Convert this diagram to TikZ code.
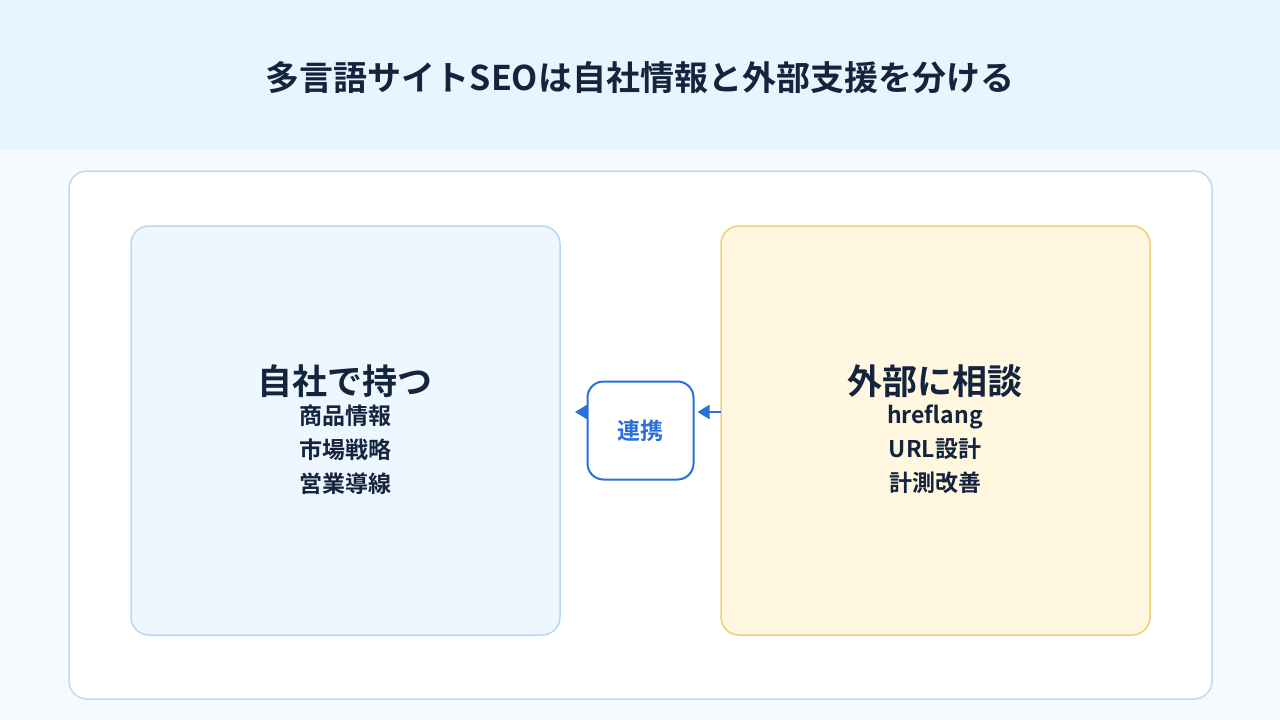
\documentclass[tikz,border=0pt]{standalone}
\usepackage{fontspec}
\setmainfont{Noto Sans CJK JP}[BoldFont={* Bold}]
\usetikzlibrary{arrows.meta}
\definecolor{navy}{HTML}{14243D}
\definecolor{linkblue}{HTML}{2A6FDB}
\begin{document}
\begin{tikzpicture}[x=1pt,y=-1pt,
panel/.style={rectangle,rounded corners=18pt,line width=1.5pt},
head/.style={font=\bfseries\fontsize{35}{40}\selectfont,text=navy},
item/.style={font=\bfseries\fontsize{23}{34}\selectfont,text=navy,align=center}]
	%background
	\fill[fill={rgb,255:red,245;green,250;blue,254}] (0,0) rectangle (1280,720);
	\fill[fill={rgb,255:red,232;green,244;blue,254}] (0,0) rectangle (1280,150);
	\useasboundingbox (0,0) rectangle (1280,720);
	\node[font=\bfseries\fontsize{34}{38}\selectfont,text=navy] (title) at (640,78) {多言語サイトSEOは自社情報と外部支援を分ける};
	%outer panel
	\draw[panel,fill=white,draw={rgb,255:red,191;green,220;blue,235}] (69,171) rectangle (1212,699);
	%boxes
	\draw[panel,fill={rgb,255:red,238;green,246;blue,255},draw={rgb,255:red,185;green,216;blue,238}] (131,226) rectangle (560,635);
	\coordinate (own) at (560,412);
	\draw[panel,fill={rgb,255:red,255;green,247;blue,224},draw={rgb,255:red,237;green,207;blue,122}] (721,226) rectangle (1150,635);
	\coordinate (ext) at (721,412);
	\node[head] (ownh) at (345,381) {自社で持つ};
	\node[item,below=0pt] (owni) at (ownh.south) {商品情報\\市場戦略\\営業導線};
	\node[head] (exth) at (935,381) {外部に相談};
	\node[item,below=0pt] (exti) at (exth.south) {hreflang\\URL設計\\計測改善};
	%link
	\node[draw=linkblue,line width=2pt,fill=white,rounded corners=16pt,minimum width=106pt,minimum height=98pt,
	  text=linkblue,font=\bfseries\fontsize{23}{26}\selectfont] (link) at (640.5,430.5) {連携};
	\draw[-{Triangle[length=12pt,width=14pt]},linkblue,line width=2pt,shorten >=3pt] (ext) -- (ext -| link.east);
	\draw[-{Triangle[length=12pt,width=14pt]},linkblue,line width=2pt,shorten >=15pt] (link.west |- own) -- (own);
\end{tikzpicture}
\end{document}
